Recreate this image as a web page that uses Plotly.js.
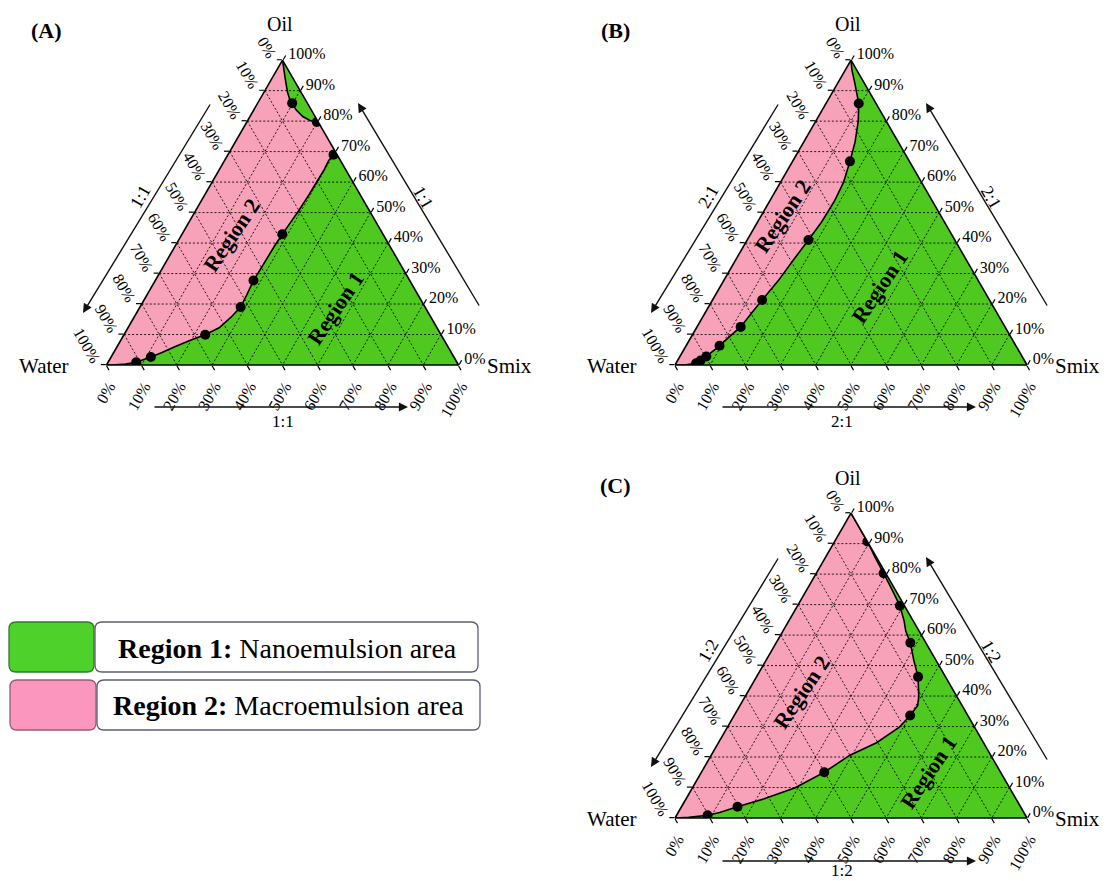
<!DOCTYPE html>
<html><head><meta charset="utf-8">
<script src="https://cdn.plot.ly/plotly-3.0.1.min.js"></script>
<style>html,body{margin:0;padding:0;background:#fff}#chart{width:1111px;height:881px}</style>
</head><body><div id="chart"></div>
<script>
// ---------- text / ticks ----------
const tickVals = [0, 10, 20, 30, 40, 50, 60, 70, 80, 90, 100];
const tickLabels = ['100%', '90%', '80%', '70%', '60%', '50%', '40%', '30%', '20%', '10%', '0%'];
const gridVals = [10, 20, 30, 40, 50, 60, 70, 80, 90];
const ratios = ['1:1', '2:1', '1:2'];
const panelLetters = ['(A)', '(B)', '(C)'];
const vertexNames = ['Oil', 'Water', 'Smix'];
const regionNames = ['Region 1', 'Region 2'];
const legendBold = ['Region 1:', 'Region 2:'];
const legendText = ['Nanoemulsion area', 'Macroemulsion area'];

// corner of the diagram (pure Smix)
const smixCorner = {oil: 0, water: 0, smix: 100};

// ---------- Panel A (1:1) ----------
const oilA1   = [100, 98.1, 94.1, 89.6, 87.1, 85.9, 83.7, 81.5, 80.2, 79.7];
const waterA1 = [0, 0.7, 2.2, 3.8, 4.4, 4.3, 4.3, 3.5, 2.1, 0.4];
const smixA1  = [0, 1.2, 3.7, 6.6, 8.5, 9.8, 12.0, 15.0, 17.7, 19.9];
const oilA2   = [70.0, 69.0, 67.0, 63.8, 60.2, 55.7, 50.6, 46.7, 42.9, 38.8, 34.2, 27.7, 23.5, 19.0, 15.6, 12.2, 9.9, 8.2, 6.0, 4.0, 2.6, 0.9, 0.3, 0.1, 0];
const waterA2 = [0, 1.0, 3.4, 6.4, 10.1, 14.7, 20.1, 24.4, 28.6, 33.0, 37.7, 44.4, 48.2, 52.4, 56.9, 61.9, 67.0, 71.9, 77.6, 82.4, 86.1, 91.1, 94.5, 97.4, 100];
const smixA2  = [30.0, 30.0, 29.6, 29.8, 29.7, 29.6, 29.3, 28.9, 28.5, 28.2, 28.1, 27.9, 28.3, 28.6, 27.5, 25.9, 23.1, 19.9, 16.4, 13.6, 11.3, 8.0, 5.2, 2.5, 0];
const dotOilA   = [85.9, 79.7, 69.0, 42.9, 27.7, 19.0, 9.9, 2.6, 0.9];
const dotWaterA = [4.3, 0.4, 1.0, 28.6, 44.4, 52.4, 67.0, 86.1, 91.1];
const dotSmixA  = [9.8, 19.9, 30.0, 28.5, 27.9, 28.6, 23.1, 11.3, 8.0];

// ---------- Panel B (2:1) ----------
const oilB   = [100, 96.9, 92.4, 85.8, 79.9, 73.1, 66.8, 60.0, 53.8, 46.9, 41.0, 35.0, 27.6, 21.3, 16.8, 12.5, 9.2, 6.3, 2.8, 1.5, 0.6, 0.1, 0];
const waterB = [0, 1.3, 2.7, 4.9, 8.0, 12.3, 16.9, 22.1, 27.8, 34.9, 41.6, 48.5, 56.9, 64.6, 70.0, 75.1, 80.0, 84.2, 89.7, 92.0, 93.7, 96.9, 100];
const smixB  = [0, 1.8, 4.9, 9.3, 12.1, 14.6, 16.3, 17.9, 18.4, 18.2, 17.4, 16.5, 15.5, 14.1, 13.2, 12.4, 10.8, 9.5, 7.5, 6.5, 5.7, 3.0, 0];
const dotOilB   = [85.8, 66.8, 41.0, 21.3, 12.5, 6.3, 2.8, 1.5, 0.6];
const dotWaterB = [4.9, 16.9, 41.6, 64.6, 75.1, 84.2, 89.7, 92.0, 93.7];
const dotSmixB  = [9.3, 16.3, 17.4, 14.1, 12.4, 9.5, 7.5, 6.5, 5.7];

// ---------- Panel C (1:2) ----------
const oilC   = [100, 90.7, 85.5, 80.3, 74.9, 69.6, 64.6, 61.3, 57.5, 51.7, 46.3, 39.9, 36.9, 33.6, 29.7, 24.7, 20.6, 15.0, 9.9, 6.3, 3.7, 1.8, 0.9, 0.2, 0];
const waterC = [0, 0, 0.4, 0.6, 0.9, 1.3, 2.6, 3.8, 4.4, 6.3, 7.8, 10.8, 12.6, 16.4, 21.5, 30.4, 40.0, 50.1, 60.9, 71.5, 80.4, 86.4, 90.3, 96.0, 100];
const smixC  = [0, 9.3, 14.1, 19.1, 24.2, 29.1, 32.8, 34.9, 38.1, 42.0, 45.9, 49.3, 50.5, 50.0, 48.8, 44.9, 39.4, 34.9, 29.2, 22.2, 15.9, 11.8, 8.8, 3.8, 0];
const dotOilC   = [90.7, 80.3, 69.6, 57.5, 46.3, 33.6, 15.0, 3.7, 0.9];
const dotWaterC = [0, 0.6, 1.3, 4.4, 7.8, 16.4, 50.1, 80.4, 90.3];
const dotSmixC  = [9.3, 19.1, 29.1, 38.1, 45.9, 50.0, 34.9, 15.9, 8.8];

// ---------- styling ----------
const W = 1111, H = 881;
const SERIF = 'Liberation Serif, Times New Roman, serif';
const PINK = '#f8a2ba';
const GREEN = '#4fc920';

const panels = [
  {sub: 'ternary',  cx: 282.5, by: 365, side: 352, refW: [104, 364], r1: [335, 308], r2: [231, 235], bdx: 179, bdy: 58},
  {sub: 'ternary2', cx: 851,   by: 365, side: 352, refW: [672, 364], r1: [880, 287], r2: [782, 216], bdx: 170, bdy: 58},
  {sub: 'ternary3', cx: 851,   by: 818, side: 352, refW: [672, 818], r1: [928, 772], r2: [801, 692], bdx: 170, bdy: 52}
];

function px(x) { return x / W; }
function py(y) { return 1 - y / H; }

function domainFor(p) {
  const h = p.side * Math.sqrt(3) / 2;
  return {x: [px(p.cx - p.side / 2), px(p.cx + p.side / 2)], y: [py(p.by), py(p.by - h)]};
}

function axisCfg(angle) {
  return {
    tickmode: 'array', tickvals: tickVals, ticktext: tickLabels, tickangle: angle,
    ticks: 'outside', ticklen: 5, tickwidth: 1.2, tickcolor: '#000',
    tickfont: {family: SERIF, size: 16, color: '#000'},
    showline: true, linecolor: '#000', linewidth: 1.6,
    showgrid: false, min: 0, title: {text: ''}
  };
}

function fillTrace(sub, a, b, c) {
  return {type: 'scatterternary', subplot: sub, a: a, b: b, c: c, mode: 'lines', fill: 'toself',
    fillcolor: GREEN, line: {width: 0, color: GREEN}, hoverinfo: 'skip', showlegend: false};
}
function lineTrace(sub, a, b, c) {
  return {type: 'scatterternary', subplot: sub, a: a, b: b, c: c, mode: 'lines',
    line: {color: '#000', width: 1.6}, hoverinfo: 'skip', showlegend: false};
}
function dotTrace(sub, a, b, c) {
  return {type: 'scatterternary', subplot: sub, a: a, b: b, c: c, mode: 'markers',
    marker: {color: '#000', size: 10}, hoverinfo: 'skip', showlegend: false};
}
function gridTrace(sub) {
  const a = [], b = [], c = [];
  gridVals.forEach(v => {
    a.push(v, v, null);           b.push(100 - v, 0, null);     c.push(0, 100 - v, null);
    a.push(100 - v, 0, null);     b.push(v, v, null);           c.push(0, 100 - v, null);
    a.push(100 - v, 0, null);     b.push(0, 100 - v, null);     c.push(v, v, null);
  });
  return {type: 'scatterternary', subplot: sub, a: a, b: b, c: c, mode: 'lines', connectgaps: false,
    line: {color: 'rgba(0,0,0,0.85)', width: 1, dash: '2px,2px'}, hoverinfo: 'skip', showlegend: false};
}
function withCorner(arr, key) { return arr.concat([smixCorner[key]]); }

const traces = [];
traces.push(fillTrace('ternary', oilA1, waterA1, smixA1));
traces.push(fillTrace('ternary', withCorner(oilA2, 'oil'), withCorner(waterA2, 'water'), withCorner(smixA2, 'smix')));
traces.push(fillTrace('ternary2', withCorner(oilB, 'oil'), withCorner(waterB, 'water'), withCorner(smixB, 'smix')));
traces.push(fillTrace('ternary3', withCorner(oilC, 'oil'), withCorner(waterC, 'water'), withCorner(smixC, 'smix')));
panels.forEach(p => traces.push(gridTrace(p.sub)));
traces.push(lineTrace('ternary', oilA1, waterA1, smixA1));
traces.push(lineTrace('ternary', oilA2, waterA2, smixA2));
traces.push(lineTrace('ternary2', oilB, waterB, smixB));
traces.push(lineTrace('ternary3', oilC, waterC, smixC));
traces.push(dotTrace('ternary', dotOilA, dotWaterA, dotSmixA));
traces.push(dotTrace('ternary2', dotOilB, dotWaterB, dotSmixB));
traces.push(dotTrace('ternary3', dotOilC, dotWaterC, dotSmixC));

// ---------- annotations ----------
const annotations = [];
function txt(x, y, text, size, opts) {
  annotations.push(Object.assign({xref: 'paper', yref: 'paper', x: px(x), y: py(y), text: text,
    xanchor: 'center', yanchor: 'middle',
    showarrow: false, font: {family: SERIF, size: size, color: '#000'}}, opts || {}));
}
function arrow(tx, ty, hx, hy) {
  annotations.push({xref: 'paper', yref: 'paper', x: px(hx), y: py(hy), ax: tx - hx, ay: ty - hy,
    axref: 'pixel', ayref: 'pixel', text: '', showarrow: true, arrowhead: 2, arrowsize: 1.3,
    arrowwidth: 1.4, arrowcolor: '#111'});
}

const layout = {
  width: W, height: H, margin: {l: 0, r: 0, t: 0, b: 0},
  paper_bgcolor: '#fff', showlegend: false,
  font: {family: SERIF, color: '#000'},
  shapes: [], annotations: annotations
};

panels.forEach((p, i) => {
  layout[p.sub] = {domain: domainFor(p), sum: 100, bgcolor: PINK,
    aaxis: axisCfg(60), baxis: axisCfg(-60), caxis: axisCfg(0)};
  const wx = p.refW[0], wy = p.refW[1];
  const sX = p.cx + p.side / 2, wX = p.cx - p.side / 2;
  txt(wx - 57, wy - 333, '<b>' + panelLetters[i] + '</b>', 22);
  txt(p.cx - 3, wy - 340, vertexNames[0], 20);
  txt(wX - 36, p.by + 1, vertexNames[1], 21, {xanchor: 'right'});
  txt(sX + 26, p.by + 1, vertexNames[2], 21, {xanchor: 'left'});
  arrow(wx + 107, wy - 261, wx - 21, wy - 51);
  arrow(wx + 376, wy - 57, wx + 254, wy - 261);
  arrow(wx + 49, wy + 43, wx + 304, wy + 43);
  txt(wx + 36, wy - 167, ratios[i], 18, {textangle: -60});
  txt(wx + 319, wy - 167, ratios[i], 18, {textangle: 60});
  txt(wx + p.bdx, wy + p.bdy, ratios[i], 17);
  txt(p.r2[0], p.r2[1], '<b>' + regionNames[1] + '</b>', 22, {textangle: -56});
  txt(p.r1[0], p.r1[1], '<b>' + regionNames[0] + '</b>', 22, {textangle: -56});
});

// ---------- legend boxes ----------
function roundRect(x0, y0, x1, y1, r, fill, stroke) {
  const rx = r / W, ry = r / H;
  const X0 = px(x0), X1 = px(x1), Y0 = py(y0), Y1 = py(y1);
  const d = 'M ' + (X0 + rx) + ',' + Y0 + ' L ' + (X1 - rx) + ',' + Y0 + ' Q ' + X1 + ',' + Y0 + ' ' + X1 + ',' + (Y0 - ry) +
    ' L ' + X1 + ',' + (Y1 + ry) + ' Q ' + X1 + ',' + Y1 + ' ' + (X1 - rx) + ',' + Y1 +
    ' L ' + (X0 + rx) + ',' + Y1 + ' Q ' + X0 + ',' + Y1 + ' ' + X0 + ',' + (Y1 + ry) +
    ' L ' + X0 + ',' + (Y0 - ry) + ' Q ' + X0 + ',' + Y0 + ' ' + (X0 + rx) + ',' + Y0 + ' Z';
  layout.shapes.push({type: 'path', xref: 'paper', yref: 'paper', path: d, fillcolor: fill,
    line: {color: stroke, width: 1.3}, layer: 'above'});
}
roundRect(9, 622, 94, 672, 7, '#4fd12c', '#2f7a2a');
roundRect(95, 622, 478, 672, 7, '#ffffff', '#5a5f74');
roundRect(10, 680, 96, 730, 7, '#fb97bf', '#9a5a74');
roundRect(97, 680, 480, 730, 7, '#ffffff', '#5a5f74');
txt(287, 648, '<b>' + legendBold[0] + '</b> ' + legendText[0], 28);
txt(288, 705, '<b>' + legendBold[1] + '</b> ' + legendText[1], 28);

Plotly.newPlot('chart', traces, layout, {staticPlot: true, displayModeBar: false});
</script>
</body></html>
